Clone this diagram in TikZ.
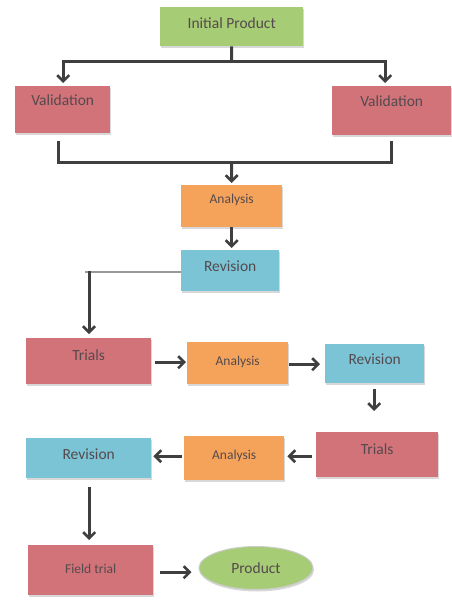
\documentclass[tikz,border=0pt]{standalone}
\usepackage{fontspec}
\setmainfont{Carlito}
\usetikzlibrary{arrows.meta,shapes.geometric,shadows,calc}
\definecolor{gfill}{HTML}{A6CC75}
\definecolor{rfill}{HTML}{D2737A}
\definecolor{ofill}{HTML}{F5A35A}
\definecolor{bfill}{HTML}{7AC4D6}
\definecolor{txt}{HTML}{554A4D}
\definecolor{arr}{HTML}{3F3F3F}
\tikzset{
  x=1pt, y=-1pt,
  box/.style={rectangle, draw=none, inner sep=0pt, text=txt, anchor=north west,
    drop shadow={shadow xshift=1pt, shadow yshift=-2pt, fill=black!25, opacity=0.6}},
  big/.style={font=\fontsize{15.5}{17}\selectfont},
  small/.style={font=\fontsize{13.5}{15}\selectfont},
  green/.style={box, fill=gfill},
  red/.style={box, fill=rfill},
  orange/.style={box, fill=ofill},
  blue/.style={box, fill=bfill},
  conn/.style={draw=arr, line width=3pt},
  arrow/.style={conn, -{Straight Barb[length=6pt, width=12pt, line width=2.6pt]}},
  thin/.style={draw=black!40, line width=1.3pt},
}
\begin{document}
\begin{tikzpicture}
\useasboundingbox (0,0) rectangle (451,600);
\fill[white] (0,0) rectangle (451,600);
% nodes
\node[green, big, minimum width=143, minimum height=39, text depth=8pt] (ip) at (160,7) {Initial Product};
\node[red, big, minimum width=95, minimum height=47, text depth=19pt] (v1) at (15,86) {Validation};
\node[red, big, minimum width=119, minimum height=49, text depth=19pt] (v2) at (332,86) {Validation};
\node[orange, small, minimum width=101, minimum height=42, text depth=14pt] (a1) at (181,185) {Analysis};
\node[blue, big, minimum width=98, minimum height=41, text depth=9pt] (r1) at (181,250) {Revision};
\node[red, big, minimum width=125, minimum height=46, text depth=13pt] (t1) at (26,338) {Trials};
\node[orange, small, minimum width=101, minimum height=42, text depth=5pt] (a2) at (187,342) {Analysis};
\node[blue, big, minimum width=99, minimum height=39, text depth=9pt] (r2) at (325,344) {Revision};
\node[red, big, minimum width=122, minimum height=45, text depth=11pt] (t2) at (316,432) {Trials};
\node[orange, small, minimum width=100, minimum height=44, text depth=6pt] (a3) at (184,436) {Analysis};
\node[blue, big, minimum width=125, minimum height=40, text depth=9pt] (r3) at (26,438) {Revision};
\node[red, small, minimum width=125, minimum height=50, text depth=2pt] (ft) at (28,545) {Field trial};
\node[ellipse, draw=black!20, line width=1pt, fill=gfill, inner sep=0pt, text=txt, big, minimum width=114, minimum height=43,
  drop shadow={shadow xshift=1pt, shadow yshift=-2pt, fill=black!25, opacity=0.6}] (pr) at (256,568) {Product};
% connectors
\coordinate (j1) at (231.5,61);
\draw[conn] (ip.south) -- (j1);
\draw[arrow] (j1) -| ($(v1.north)+(0.5,-3)$);
\draw[arrow] (j1) -| ($(v2.north)+(-6.5,-3)$);
\coordinate (j2) at (231.5,162);
\draw[conn] ($(v1.south)+(-4.5,8)$) |- (j2) -| ($(v2.south)+(-0.5,6)$);
\draw[arrow] (j2) -- ($(a1.north)+(0,-2)$);
\draw[arrow] (a1.south) -- ($(a1.south |- r1.north)+(0,-2)$);
\coordinate (k) at (89,272);
\draw[thin] (r1.west |- k) -- ($(k)+(-4,0)$);
\draw[arrow] ($(k)+(0,-1)$) -- ($(k |- t1.north)+(0,-4)$);
\coordinate (s1) at ($(t1.east)+(4,1)$);
\draw[arrow] (s1) -- ($(a2.west |- s1)+(-1,0)$);
\coordinate (s2) at ($(a2.east)+(1,1)$);
\draw[arrow] (s2) -- ($(r2.west |- s2)+(-5,0)$);
\coordinate (s3) at ($(r2.south)+(-0.5,6)$);
\draw[arrow] (s3) -- ($(s3 |- t2.north)+(0,-21)$);
\coordinate (s4) at ($(t2.west)+(-4,1.5)$);
\draw[arrow] (s4) -- ($(a3.east |- s4)+(3,0)$);
\coordinate (s5) at ($(a3.west |- s4)+(-2,0)$);
\draw[arrow] (s5) -- ($(r3.east |- s4)+(2,0)$);
\coordinate (s6) at ($(r3.south)+(0.5,9)$);
\draw[arrow] (s6) -- ($(s6 |- ft.north)+(0,-5)$);
\coordinate (s7) at ($(ft.east)+(7,2)$);
\draw[arrow] (s7) -- ($(pr.west |- s7)+(-7,0)$);
\end{tikzpicture}
\end{document}
